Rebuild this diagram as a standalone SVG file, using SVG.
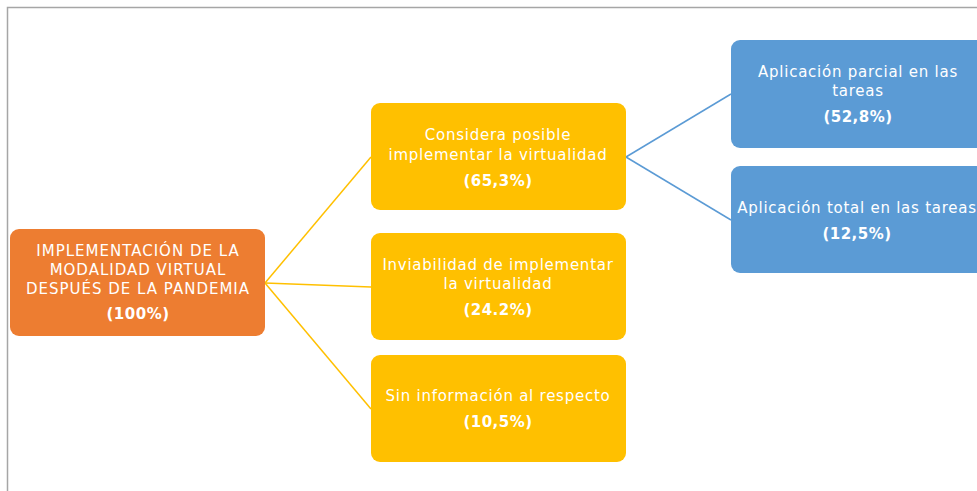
<svg xmlns="http://www.w3.org/2000/svg" width="977" height="491" viewBox="0 0 977 491">
<style>
.t{font-family:"DejaVu Sans","Open Sans",sans-serif;font-size:15px;fill:#fff;text-anchor:middle;letter-spacing:0.75px}
.c{letter-spacing:1px}
.b{font-weight:bold;letter-spacing:0.5px}
.y{fill:#FFC000}
.o{fill:#ED7D31}
.bl{fill:#5B9BD5}
</style>
<rect width="977" height="491" fill="#fff"/>
<path d="M7.5 491 V7.5 H977" fill="none" stroke="#A6A6A6" stroke-width="1.5"/>
<g id="connectors" fill="none" stroke-width="1.5">
<g stroke="#FFC000">
<line x1="265" y1="283" x2="371" y2="157"/>
<line x1="265" y1="283" x2="371" y2="287"/>
<line x1="265" y1="283" x2="371" y2="409"/>
</g>
<g stroke="#5B9BD5">
<line x1="626" y1="157" x2="731" y2="94"/>
<line x1="626" y1="157" x2="731" y2="220"/>
</g>
</g>
<g id="root">
<rect class="o" x="10" y="229" width="255" height="107" rx="9"/>
<text class="t c" x="138" y="256">IMPLEMENTACIÓN DE LA</text>
<text class="t c" x="138" y="275">MODALIDAD VIRTUAL</text>
<text class="t c" x="138" y="294">DESPUÉS DE LA PANDEMIA</text>
<text class="t b" x="138" y="319">(100%)</text>
</g>
<g id="considera">
<rect class="y" x="371" y="103" width="255" height="107" rx="9"/>
<text class="t" x="498" y="140">Considera posible</text>
<text class="t" x="498" y="160">implementar la virtualidad</text>
<text class="t b" x="498" y="186">(65,3%)</text>
</g>
<g id="inviabilidad">
<rect class="y" x="371" y="233" width="255" height="107" rx="9"/>
<text class="t" x="498" y="270">Inviabilidad de implementar</text>
<text class="t" x="498" y="289">la virtualidad</text>
<text class="t b" x="498" y="315">(24.2%)</text>
</g>
<g id="sininfo">
<rect class="y" x="371" y="355" width="255" height="107" rx="9"/>
<text class="t" x="498" y="401">Sin información al respecto</text>
<text class="t b" x="498" y="427">(10,5%)</text>
</g>
<g id="parcial">
<rect class="bl" x="731" y="40" width="256" height="108" rx="9"/>
<text class="t" x="858" y="77">Aplicación parcial en las</text>
<text class="t" x="858" y="96">tareas</text>
<text class="t b" x="858" y="122">(52,8%)</text>
</g>
<g id="total">
<rect class="bl" x="731" y="166" width="256" height="107" rx="9"/>
<text class="t" x="857" y="213">Aplicación total en las tareas</text>
<text class="t b" x="857" y="239">(12,5%)</text>
</g>
</svg>
